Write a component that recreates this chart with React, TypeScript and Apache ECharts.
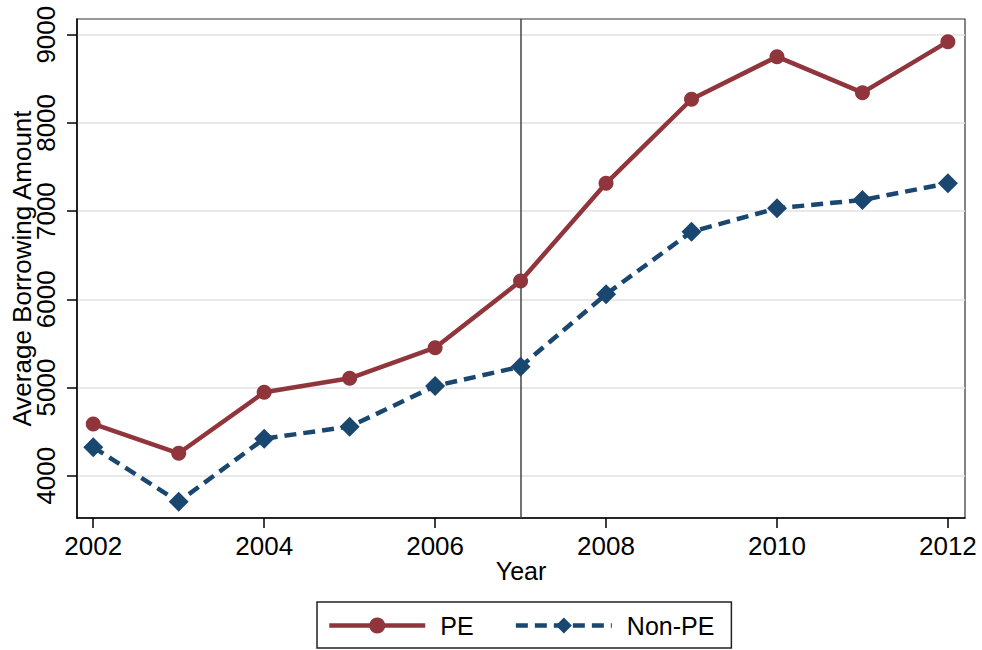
import React from 'react';
import * as echarts from 'echarts';

// Values
const years = [2002, 2003, 2004, 2005, 2006, 2007, 2008, 2009, 2010, 2011, 2012];
const pe = [4586, 4254, 4945, 5104, 5451, 6207, 7315, 8268, 8751, 8343, 8921];
const nonPe = [4322, 3705, 4420, 4556, 5017, 5236, 6057, 6766, 7032, 7126, 7315];
const xTicks = [2002, 2004, 2006, 2008, 2010, 2012];
const yTicks = [4000, 5000, 6000, 7000, 8000, 9000];
const eventYear = 2007;

const RED = '#90353b';
const NAVY = '#1a476f';
const FONT = '"Liberation Sans", Arial, Helvetica, sans-serif';

const App: React.FC = () => {
  const chartRef = React.useRef<HTMLDivElement>(null);

  React.useEffect(() => {
    if (!chartRef.current) return;
    const chart = echarts.init(chartRef.current, null, { renderer: 'svg' });

    const option = {
      animation: false,
      backgroundColor: '#ffffff',
      textStyle: { fontFamily: FONT },
      grid: {
        left: 77,
        right: 17,
        top: 19,
        bottom: 132,
        outerBoundsMode: 'none',
        containLabel: false,
        show: true,
        borderColor: '#333',
        borderWidth: 1.2,
        backgroundColor: 'transparent'
      },
      legend: {
        top: 602,
        left: 317,
        borderColor: '#222',
        borderWidth: 1.5,
        padding: [11, 17, 10, 10],
        itemGap: 40,
        itemWidth: 96,
        itemHeight: 20,
        lineStyle: { width: 4.5 },
        textStyle: { fontSize: 25, color: '#000', fontFamily: FONT, padding: [0, 0, 0, 10] },
        data: ['PE', 'Non-PE']
      },
      xAxis: {
        type: 'value',
        min: 2001.81,
        max: 2012.2,
        name: 'Year',
        nameLocation: 'middle',
        nameGap: 40,
        nameMoveOverlap: false,
        nameTextStyle: { fontSize: 25, color: '#000', fontFamily: FONT },
        axisLine: { show: true, lineStyle: { color: '#000', width: 1.5 } },
        axisTick: { show: true, length: 10, customValues: xTicks, lineStyle: { color: '#000', width: 1.5 } },
        axisLabel: {
          customValues: xTicks,
          margin: 15,
          fontSize: 26,
          color: '#000',
          fontFamily: FONT,
          formatter: (v: number) => String(Math.round(v))
        },
        splitLine: { show: false }
      },
      yAxis: {
        type: 'value',
        min: 3520,
        max: 9178,
        name: 'Average Borrowing Amount',
        nameLocation: 'middle',
        nameGap: 42,
        nameMoveOverlap: false,
        nameRotate: 90,
        nameTextStyle: { fontSize: 26, color: '#000', fontFamily: FONT },
        axisLine: { show: true, lineStyle: { color: '#000', width: 1.5 } },
        axisTick: { show: true, length: 10, customValues: yTicks, lineStyle: { color: '#000', width: 1.5 } },
        axisLabel: {
          customValues: yTicks,
          rotate: 90,
          margin: 18,
          fontSize: 26,
          color: '#000',
          fontFamily: FONT,
          formatter: (v: number) => String(Math.round(v))
        },
        splitLine: { show: true, lineStyle: { color: '#e2e2e2', width: 1.5 } }
      },
      series: [
        {
          name: 'PE',
          type: 'line',
          data: years.map((y, i) => [y, pe[i]]),
          symbol: 'circle',
          symbolSize: 15,
          itemStyle: { color: RED },
          lineStyle: { color: RED, width: 4.5 },
          z: 3,
          markLine: {
            silent: true,
            symbol: 'none',
            label: { show: false },
            lineStyle: { color: '#444', width: 1.5, type: 'solid' },
            data: [{ xAxis: eventYear }],
            z: 1
          }
        },
        {
          name: 'Non-PE',
          type: 'line',
          data: years.map((y, i) => [y, nonPe[i]]),
          symbol: 'diamond',
          symbolSize: 20,
          itemStyle: { color: NAVY },
          lineStyle: { color: NAVY, width: 4.5, type: [12, 7] },
          z: 3
        }
      ]
    };

    chart.setOption(option);
    return () => {
      chart.dispose();
    };
  }, []);

  return (
    <div
      ref={chartRef}
      style={{ position: 'fixed', left: 0, top: 0, width: '982px', height: '650px' }}
    />
  );
};

export default App;
